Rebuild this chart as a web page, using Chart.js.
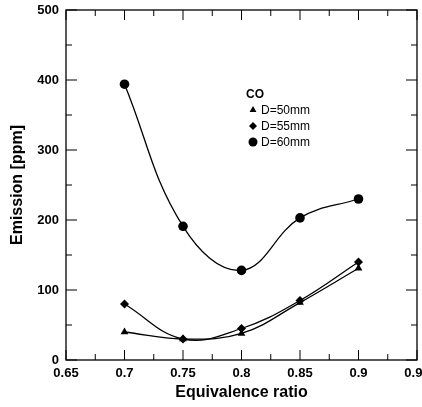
<!DOCTYPE html>
<html>
<head>
<meta charset="utf-8">
<script src="https://cdn.jsdelivr.net/npm/chart.js@4/dist/chart.umd.min.js"></script>
<style>
  html, body { margin: 0; padding: 0; background: #fff; }
  #wrap { width: 422px; height: 407px; }
</style>
</head>
<body>
<div id="wrap"><canvas id="emissionChart" width="422" height="407"></canvas></div>
<script>
// Equivalence ratio values (x) and CO emission per burner diameter
const phi = [0.7, 0.75, 0.8, 0.85, 0.9];
const coD50 = [40, 30, 38, 82, 131];
const coD55 = [80, 30, 45, 85, 140];
const coD60 = [394, 191, 128, 203, 230];

const seriesNames = ['D=50mm', 'D=55mm', 'D=60mm'];
const seriesMarkers = ['triangle', 'rectRot', 'circle'];
const legendTitle = 'CO';

// Axis ticks
const xTicks = [0.65, 0.7, 0.75, 0.8, 0.85, 0.9, 0.95];
const yTicks = [0, 100, 200, 300, 400, 500];

const fontFamily = "'Liberation Sans', Arial, sans-serif";

function toPoints(values) {
    return values.map((v, i) => ({ x: phi[i], y: v }));
}

// Box around the plot with inward ticks on all four sides
const frameTicks = {
    id: 'frameTicks',
    afterDraw(chart) {
        const { ctx, chartArea: a, scales: { x, y } } = chart;
        ctx.save();
        ctx.strokeStyle = '#000';
        ctx.lineWidth = 1.3;
        ctx.strokeRect(a.left, a.top, a.right - a.left, a.bottom - a.top);

        ctx.lineWidth = 1;
        ctx.beginPath();
        xTicks.forEach((v, i) => {
            const p = x.getPixelForValue(v);
            ctx.moveTo(p, a.bottom); ctx.lineTo(p, a.bottom - 10);
            ctx.moveTo(p, a.top); ctx.lineTo(p, a.top + 10);
            if (i < xTicks.length - 1) {
                const m = x.getPixelForValue((v + xTicks[i + 1]) / 2);
                ctx.moveTo(m, a.bottom); ctx.lineTo(m, a.bottom - 6);
                ctx.moveTo(m, a.top); ctx.lineTo(m, a.top + 6);
            }
        });
        yTicks.forEach((v, i) => {
            const p = y.getPixelForValue(v);
            ctx.moveTo(a.left, p); ctx.lineTo(a.left + 11, p);
            ctx.moveTo(a.right, p); ctx.lineTo(a.right - 11, p);
            if (i < yTicks.length - 1) {
                const m = y.getPixelForValue((v + yTicks[i + 1]) / 2);
                ctx.moveTo(a.left, m); ctx.lineTo(a.left + 6, m);
                ctx.moveTo(a.right, m); ctx.lineTo(a.right - 6, m);
            }
        });
        ctx.stroke();
        ctx.restore();
    }
};

// Legend drawn inside the plot area
const insideLegend = {
    id: 'insideLegend',
    afterDraw(chart) {
        const { ctx } = chart;
        ctx.save();
        ctx.fillStyle = '#000';
        ctx.strokeStyle = '#000';
        ctx.textBaseline = 'middle';
        ctx.textAlign = 'left';
        ctx.font = 'bold 12px ' + fontFamily;
        ctx.fillText(legendTitle, 246, 95);
        ctx.font = '12px ' + fontFamily;
        const rows = [110, 126, 142];
        seriesNames.forEach((name, i) => {
            Chart.helpers.drawPoint(ctx, {
                pointStyle: seriesMarkers[i],
                radius: i === 2 ? 4.5 : 4,
                rotation: 0,
                borderWidth: 0
            }, 253, rows[i]);
            ctx.fillStyle = '#000';
            ctx.fillText(name, 261, rows[i] + 1);
        });
        ctx.restore();
    }
};

document.addEventListener('DOMContentLoaded', function() {
    const datasets = [coD50, coD55, coD60].map((values, i) => ({
        label: seriesNames[i],
        data: toPoints(values),
        borderColor: '#000',
        backgroundColor: '#000',
        borderWidth: 1.3,
        pointStyle: seriesMarkers[i],
        pointRadius: i === 2 ? 4.8 : 4.5,
        pointBorderWidth: 0,
        tension: 0.4,
        fill: false
    }));

    new Chart(document.getElementById('emissionChart'), {
        type: 'line',
        data: { datasets: datasets },
        options: {
            responsive: false,
            animation: false,
            devicePixelRatio: 1,
            layout: { padding: { top: 10, right: 5, left: 0, bottom: 0 } },
            plugins: {
                legend: { display: false },
                tooltip: { enabled: false }
            },
            scales: {
                x: {
                    type: 'linear',
                    min: 0.65,
                    max: 0.95,
                    afterBuildTicks: s => { s.ticks = xTicks.map(v => ({ value: v })); },
                    afterFit: s => {
                        s.height = 47;
                        s.paddingLeft = 0;
                        s.paddingRight = 0;
                    },
                    grid: { display: false, drawTicks: false },
                    border: { display: false },
                    ticks: {
                        color: '#000',
                        padding: 6,
                        maxRotation: 0,
                        autoSkip: false,
                        font: { family: fontFamily, size: 13, weight: 'bold' },
                        callback: v => String(Math.round(v * 100) / 100)
                    },
                    title: {
                        display: true,
                        text: 'Equivalence ratio',
                        color: '#000',
                        padding: { top: 0, bottom: 5 },
                        font: { family: fontFamily, size: 16, weight: 'bold' }
                    }
                },
                y: {
                    min: 0,
                    max: 500,
                    afterBuildTicks: s => { s.ticks = yTicks.map(v => ({ value: v })); },
                    afterFit: s => {
                        s.width = 66;
                        s.paddingTop = 0;
                        s.paddingBottom = 0;
                    },
                    grid: { display: false, drawTicks: false },
                    border: { display: false },
                    ticks: {
                        color: '#000',
                        padding: 7,
                        font: { family: fontFamily, size: 13, weight: 'bold' }
                    },
                    title: {
                        display: true,
                        text: 'Emission [ppm]',
                        color: '#000',
                        padding: { top: 8, bottom: 0 },
                        font: { family: fontFamily, size: 16, weight: 'bold' }
                    }
                }
            }
        },
        plugins: [frameTicks, insideLegend]
    });
});
</script>
</body>
</html>
